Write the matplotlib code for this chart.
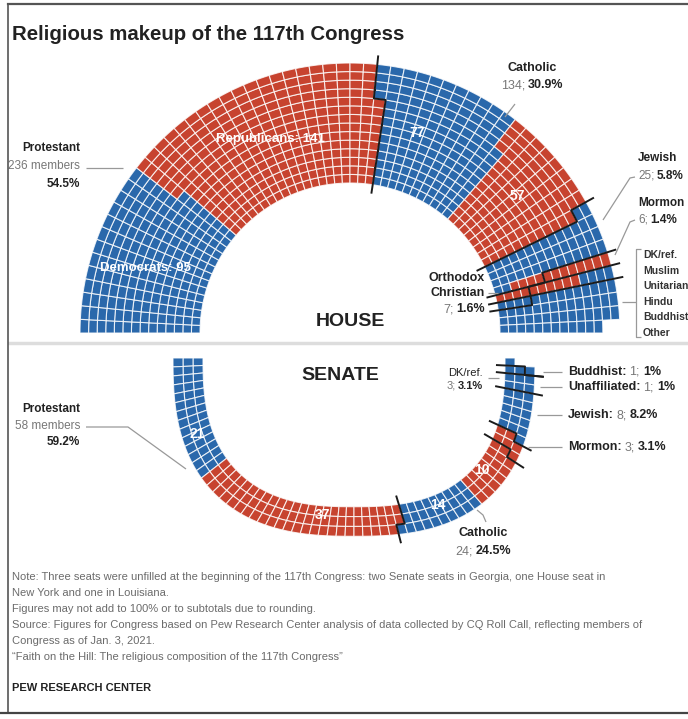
# Composicao religiosa do 117o Congresso (Camara em semicirculo, Senado em anel)

import numpy as np
import matplotlib.pyplot as plt
from matplotlib.collections import PolyCollection, LineCollection

plt.rcParams['font.family'] = ['Liberation Sans', 'DejaVu Sans']

# ---- dados ----
house_religion = ['Protestant', 'Protestant', 'Catholic', 'Catholic', 'Jewish', 'Jewish',
                  'Mormon', 'Orthodox Christian', 'Orthodox Christian', 'Other']
house_party = ['D', 'R', 'D', 'R', 'D', 'R', 'R', 'R', 'D', 'D']
house_seats = [95, 141, 77, 57, 23, 2, 6, 3, 4, 25]
house_other = ['DK/ref.', 'Muslim', 'Unitarian', 'Hindu', 'Buddhist', 'Other']

senate_religion = ['Protestant', 'Protestant', 'Catholic', 'Catholic', 'Mormon', 'Jewish',
                   'DK/ref.', 'Unaffiliated', 'Buddhist']
senate_party = ['D', 'R', 'D', 'R', 'R', 'D', 'D', 'D', 'D']
senate_seats = [21, 37, 14, 10, 3, 8, 3, 1, 1]

party_color = {'D': '#2a68ab', 'R': '#c7432f'}
DARK = '#222222'
GRAY = '#777777'

W, H = 688, 719
fig = plt.figure(figsize=(W / 100, H / 100), dpi=100)
ax = fig.add_axes([8 / W, 0, 1 - 8 / W, 1])
ax.set_xlim(8, W)
ax.set_ylim(H, 0)
ax.axis('off')
renderer = fig.canvas.get_renderer()


def total_of(religions, seats, name):
    return sum(s for r, s in zip(religions, seats) if r == name)


def pct(n, total):
    return f"{100 * n / total:.1f}".rstrip('0').rstrip('.') + '%'


def ring(cx, cy, r_in, r_out, n_rows, seats, parties, religions, sweep,
         per_seat=2, expo=2.0, ky=1.0):
    """Grade preenchida coluna a coluna (de dentro para fora).
    expo > 2 deixa o anel com formato de 'U' (superelipse)."""
    n_units = per_seat * sum(seats)
    n_cols = int(np.ceil(n_units / n_rows))
    dr = (r_out - r_in) / n_rows
    group_of = np.repeat(np.arange(len(seats)), np.array(seats) * per_seat)
    rel_names = list(dict.fromkeys(religions))
    rel_of = np.array([rel_names.index(r) for r in religions])
    grid = -np.ones((n_rows, n_cols), int)
    for k, g in enumerate(group_of):
        grid[k % n_rows, k // n_rows] = g

    e = 2.0 / expo

    def shape(r, a):
        c, s = np.cos(a), np.sin(a)
        return (cx + r * np.sign(c) * np.abs(c) ** e,
                cy - r * ky * np.sign(s) * np.abs(s) ** e)

    # parametro t pelo comprimento de arco no raio medio (celulas de largura igual)
    th = np.radians(180 + sweep * np.linspace(0, 1, 4001))
    xs, ys = shape((r_in + r_out) / 2, th)
    s_arc = np.concatenate([[0], np.cumsum(np.hypot(np.diff(xs), np.diff(ys)))])
    s_arc /= s_arc[-1]

    def pt(r, t):
        return shape(r, np.interp(t, s_arc, th))

    polys, cols = [], []
    for j in range(n_rows):
        r0 = r_in + j * dr
        r1 = r0 + dr
        for c in range(n_cols):
            if grid[j, c] < 0:
                continue
            ts = np.linspace(c / n_cols, (c + 1) / n_cols, 4)
            polys.append([pt(r0, t) for t in ts] + [pt(r1, t) for t in ts[::-1]])
            cols.append(party_color[parties[grid[j, c]]])

    lines = []
    ext = 9
    for k in range(len(rel_names) - 1):
        b = [np.sum((grid[j] >= 0) & (rel_of[grid[j]] <= k)) / n_cols for j in range(n_rows)]
        pts = [pt(r_in - ext, b[0])]
        for j in range(n_rows):
            r0 = r_in + j * dr
            r1 = r0 + dr
            pts += [pt(r0, b[j]), pt(r1, b[j])]
            if j < n_rows - 1 and b[j] != b[j + 1]:
                pts += [pt(r1, t) for t in np.linspace(b[j], b[j + 1], 4)]
        pts.append(pt(r_out + ext, b[-1]))
        lines.append(pts)
    return polys, cols, lines


def draw_ring(*args, **kw):
    polys, cols, lines = ring(*args, **kw)
    ax.add_collection(PolyCollection(polys, facecolors=cols, edgecolors=(1, 1, 1, 0.8),
                                     linewidths=0.8))
    ax.add_collection(LineCollection(lines, colors='#1b1b1b', linewidths=1.4))


def width(s, **kw):
    t = ax.text(0, 0, s, **kw)
    w = t.get_window_extent(renderer).width
    t.remove()
    return w


def rich(x, y, parts, ha='left', size=9, gap=3):
    """parts: lista de (texto, negrito)"""
    ws = [width(s, fontsize=size, fontweight='bold' if b else 'normal') for s, b in parts]
    tot = sum(ws) + gap * (len(parts) - 1)
    x0 = x - {'left': 0, 'center': tot / 2, 'right': tot}[ha]
    for (s, b), w in zip(parts, ws):
        ax.text(x0, y, s, fontsize=size, fontweight='bold' if b else 'normal',
                color=DARK if b else GRAY, ha='left', va='center')
        x0 += w + gap


def leader(xs, ys, color='#999999'):
    ax.plot(xs, ys, color=color, lw=0.9, solid_capstyle='butt')


# ---- moldura ----
fig.add_artist(plt.Line2D([8 / W, 1], [1 - 4 / H, 1 - 4 / H], color='#555555', lw=1.6))
fig.add_artist(plt.Line2D([8 / W, 8 / W], [1 - 4 / H, 1 - 713 / H], color='#555555', lw=1.2))
fig.add_artist(plt.Line2D([0, 1], [1 - 713 / H, 1 - 713 / H], color='#444444', lw=1.6))
ax.plot([8, W], [343, 343], color='#dddddd', lw=2.5)

ax.text(12, 34, 'Religious makeup of the 117th Congress', fontsize=14.7, fontweight='bold',
        color=DARK, ha='left', va='center')

# ---- HOUSE ----
h_tot = sum(house_seats)
draw_ring(350, 333, 150, 270, 14, house_seats, house_party, house_religion, -180)

ax.text(350, 322, 'HOUSE', fontsize=14, fontweight='bold', color=DARK, ha='center', va='center')
ax.text(270, 139, f"Republicans: {house_seats[1]}", fontsize=9.5, fontweight='bold',
        color='white', ha='center', va='center')
ax.text(145, 268, f"Democrats: {house_seats[0]}", fontsize=9.5, fontweight='bold',
        color='white', ha='center', va='center')
ax.text(417, 133, str(house_seats[2]), fontsize=10, fontweight='bold', color='white',
        ha='center', va='center')
ax.text(517, 196, str(house_seats[3]), fontsize=10, fontweight='bold', color='white',
        ha='center', va='center')

n = total_of(house_religion, house_seats, 'Protestant')
ax.text(80, 148, 'Protestant', fontsize=8.5, fontweight='bold', color=DARK, ha='right',
        va='center')
ax.text(80, 166, f"{n} members", fontsize=8.5, color=GRAY, ha='right', va='center')
ax.text(80, 184, pct(n, h_tot), fontsize=8.5, fontweight='bold', color=DARK, ha='right',
        va='center')
leader([86, 123], [168, 168])

n = total_of(house_religion, house_seats, 'Catholic')
ax.text(532, 68, 'Catholic', fontsize=9, fontweight='bold', color=DARK, ha='center', va='center')
rich(532, 85, [(f"{n};", False), (pct(n, h_tot), True)], ha='center')
leader([515, 505], [104, 117])

n = total_of(house_religion, house_seats, 'Jewish')
ax.text(638, 158, 'Jewish', fontsize=8.5, fontweight='bold', color=DARK, ha='left', va='center')
rich(638, 176, [(f"{n};", False), (pct(n, h_tot), True)], size=8.5, gap=2.5)
leader([635, 630, 603], [177, 178, 220])

n = total_of(house_religion, house_seats, 'Mormon')
ax.text(638, 203, 'Mormon', fontsize=8.5, fontweight='bold', color=DARK, ha='left', va='center')
rich(638, 220, [(f"{n};", False), (pct(n, h_tot), True)], size=8.5, gap=2.5)
leader([635, 630, 615], [220, 222, 255])

n = total_of(house_religion, house_seats, 'Orthodox Christian')
ax.text(485, 278, 'Orthodox', fontsize=9, fontweight='bold', color=DARK, ha='right', va='center')
ax.text(485, 293, 'Christian', fontsize=9, fontweight='bold', color=DARK, ha='right', va='center')
rich(485, 309, [(f"{n};", False), (pct(n, h_tot), True)], ha='right')
leader([488, 498], [293, 293])

for k, name in enumerate(house_other):
    ax.text(643, 255 + k * 15.6, name, fontsize=7.5, fontweight='bold', color='#333333',
            ha='left', va='center')
leader([641, 636, 636, 641], [249, 249, 337, 337])
leader([622, 636], [302, 302])

# ---- SENATE ----
s_tot = sum(senate_seats)
draw_ring(354, 358, 151, 181, 3, senate_seats, senate_party, senate_religion, 180,
          expo=2.6, ky=0.985)

ax.text(340, 376, 'SENATE', fontsize=14, fontweight='bold', color=DARK, ha='center', va='center')
for k, (x, y) in zip(range(4), [(197, 434), (322, 515), (438, 505), (482, 470)]):
    ax.text(x, y, str(senate_seats[k]), fontsize=10, fontweight='bold', color='white',
            ha='center', va='center')

n = total_of(senate_religion, senate_seats, 'Protestant')
ax.text(80, 409, 'Protestant', fontsize=8.5, fontweight='bold', color=DARK, ha='right',
        va='center')
ax.text(80, 426, f"{n} members", fontsize=8.5, color=GRAY, ha='right', va='center')
ax.text(80, 442, pct(n, s_tot), fontsize=8.5, fontweight='bold', color=DARK, ha='right',
        va='center')
leader([86, 128, 186], [427, 427, 469])

n = total_of(senate_religion, senate_seats, 'Catholic')
ax.text(483, 533, 'Catholic', fontsize=9, fontweight='bold', color=DARK, ha='center', va='center')
rich(483, 551, [(f"{n};", False), (pct(n, s_tot), True)], ha='center')
leader([477, 483, 486], [510, 515, 522])

n = total_of(senate_religion, senate_seats, 'DK/ref.')
ax.text(483, 373, 'DK/ref.', fontsize=8, color=DARK, ha='right', va='center')
rich(483, 386, [(f"{n};", False), (pct(n, s_tot), True)], ha='right', size=8, gap=2)
leader([488, 499], [378, 378])

for name, y, x0 in [('Buddhist', 372, 543), ('Unaffiliated', 387, 540),
                    ('Jewish', 415, 537), ('Mormon', 447, 528)]:
    n = total_of(senate_religion, senate_seats, name)
    rich(568, y, [(f"{name}:", True), (f"{n};", False), (pct(n, s_tot), True)])
    leader([x0, 562], [y, y])

# ---- notas ----
notes = [
    'Note: Three seats were unfilled at the beginning of the 117th Congress: two Senate seats '
    'in Georgia, one House seat in',
    'New York and one in Louisiana.',
    'Figures may not add to 100% or to subtotals due to rounding.',
    'Source: Figures for Congress based on Pew Research Center analysis of data collected by '
    'CQ Roll Call, reflecting members of',
    'Congress as of Jan. 3, 2021.',
    '\u201cFaith on the Hill: The religious composition of the 117th Congress\u201d',
]
for k, line in enumerate(notes):
    ax.text(12, 577 + k * 16, line, fontsize=8, color='#6b6b6b', ha='left', va='center')
ax.text(12, 688, 'PEW RESEARCH CENTER', fontsize=8, fontweight='bold', color=DARK,
        ha='left', va='center')

fig.savefig('out.png', dpi=100)
